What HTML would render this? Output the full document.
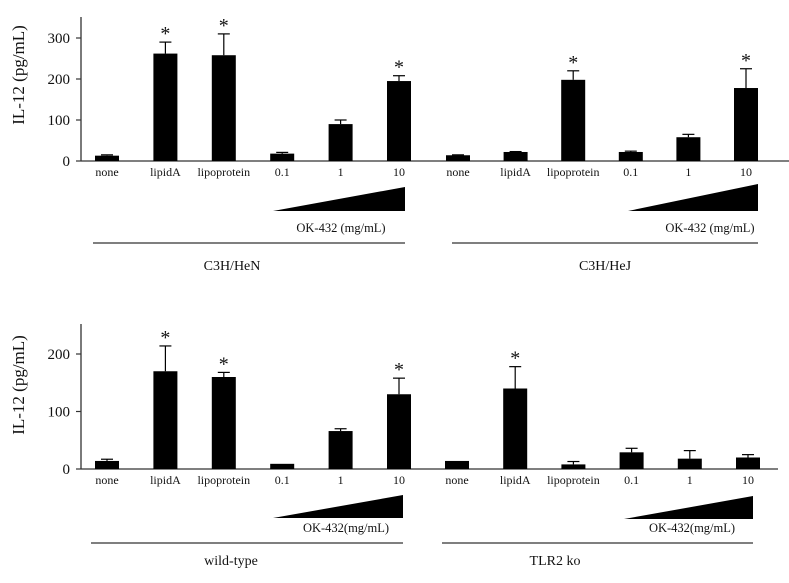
<!DOCTYPE html>
<html><head><meta charset="utf-8"><style>
html,body{margin:0;padding:0;background:#fff;}
svg{display:block;font-family:"Liberation Serif",serif;}
</style></head><body>
<svg id="chart" width="789" height="583" viewBox="0 0 789 583"></svg>
<script>
const categories = ["none","lipidA","lipoprotein","0.1","1","10"];
const henValues = [13,262,258,18,90,195];
const henErrors = [15,290,310,21,100,208];
const hejValues = [14,22,198,22,58,178];
const hejErrors = [15,23,220,24,65,225];
const wtValues = [14,170,160,9,66,130];
const wtErrors = [17,214,168,9,70,158];
const koValues = [14,140,8,29,18,20];
const koErrors = [14,178,13,36,32,25];
const henStars = [0,1,1,0,0,1];
const hejStars = [0,0,1,0,0,1];
const wtStars = [0,1,1,0,0,1];
const koStars = [0,1,0,0,0,0];
const topTicks = [0,100,200,300];
const botTicks = [0,100,200];

const NS="http://www.w3.org/2000/svg";
const svg=document.getElementById('chart');
function mk(tag,attrs,parent){const e=document.createElementNS(NS,tag);for(const k in attrs)e.setAttribute(k,attrs[k]);(parent||svg).appendChild(e);return e;}
function txt(x,y,s,size,anchor,name){const t=mk('text',{x:x,y:y,'font-size':size,'text-anchor':anchor||'middle',fill:'#111'});t.textContent=s;


return t;}

function panel(p){
  const g=mk('g',{});
  
  
  const y=v=>p.base - v*p.scale;
  const ax=mk('line',{x1:p.ax,y1:p.top,x2:p.ax,y2:p.base,stroke:'#333','stroke-width':1.3},g);
  
  
  const bx=mk('line',{x1:p.ax,y1:p.base,x2:p.right,y2:p.base,stroke:'#333','stroke-width':1.3},g);
  
  
  p.ticks.forEach(t=>{
    mk('line',{x1:p.ax-5,y1:y(t),x2:p.ax,y2:y(t),stroke:'#333','stroke-width':1.2},g);
    const l=txt(p.ax-11,y(t)+5,String(t),15,'end','y-tick-label');g.appendChild(l);
  });
  const yt=txt(0,0,'IL-12 (pg/mL)',17,'middle','y-axis-title');
  yt.setAttribute('transform',`translate(${p.ytx},${p.yty}) rotate(-90)`);g.appendChild(yt);
  p.groups.forEach((gr,gi)=>{
    categories.forEach((c,i)=>{
      const cx=gr.x0 + i*gr.dx, v=gr.vals[i], e=gr.errs[i];
      const r=mk('rect',{x:cx-12,y:y(v),width:24,height:p.base-y(v),fill:'#000'},g);
      
      
      if(e>v+0.5){
        mk('line',{x1:cx,y1:y(v),x2:cx,y2:y(e),stroke:'#000','stroke-width':1.2},g);
        mk('line',{x1:cx-6,y1:y(e),x2:cx+6,y2:y(e),stroke:'#000','stroke-width':1.2},g);
      }
      if(gr.stars[i]){const s=txt(cx,y(Math.max(e,v))-2,'*',20,'middle','significance-star');g.appendChild(s);}
      const xl=txt(cx,p.base+15,c,12,'middle','x-label-'+c);g.appendChild(xl);
    });
    const tri=mk('polygon',{points:`${gr.triL},${gr.triB} ${gr.triR},${gr.triB} ${gr.triR},${gr.triT}`,fill:'#000'},g);
    
    
    const ok=txt(gr.okx,gr.oky,p.okText,12.5,'middle','ok432-label');g.appendChild(ok);
    const ln=mk('line',{x1:gr.lineL,y1:gr.lineY,x2:gr.triR,y2:gr.lineY,stroke:'#333','stroke-width':1.2},g);
    
    
    const gl=txt(gr.gx,gr.gy,gr.label,14,'middle','group-label');g.appendChild(gl);
  });
}

panel({name:'top-panel',ax:81,top:17,base:161,right:789,scale:0.41,ticks:topTicks,ytx:24,yty:75,okText:'OK-432 (mg/mL)',
 groups:[
  {key:'hen',x0:107,dx:58.4,vals:henValues,errs:henErrors,stars:henStars,triL:273,triR:405,triT:187,triB:211,okx:341,oky:232,lineL:93,lineY:243,gx:232,gy:270,label:'C3H/HeN'},
  {key:'hej',x0:458,dx:57.6,vals:hejValues,errs:hejErrors,stars:hejStars,triL:628,triR:758,triT:184,triB:211,okx:710,oky:232,lineL:452,lineY:243,gx:605,gy:270,label:'C3H/HeJ'}
 ]});
panel({name:'bottom-panel',ax:81,top:324,base:469,right:778,scale:0.575,ticks:botTicks,ytx:24,yty:385,okText:'OK-432(mg/mL)',
 groups:[
  {key:'wt',x0:107,dx:58.4,vals:wtValues,errs:wtErrors,stars:wtStars,triL:273,triR:403,triT:495,triB:518,okx:346,oky:532,lineL:91,lineY:543,gx:231,gy:565,label:'wild-type'},
  {key:'ko',x0:457,dx:58.2,vals:koValues,errs:koErrors,stars:koStars,triL:624,triR:753,triT:496,triB:519,okx:692,oky:532,lineL:442,lineY:543,gx:555,gy:565,label:'TLR2 ko'}
 ]});
</script>
</body></html>
